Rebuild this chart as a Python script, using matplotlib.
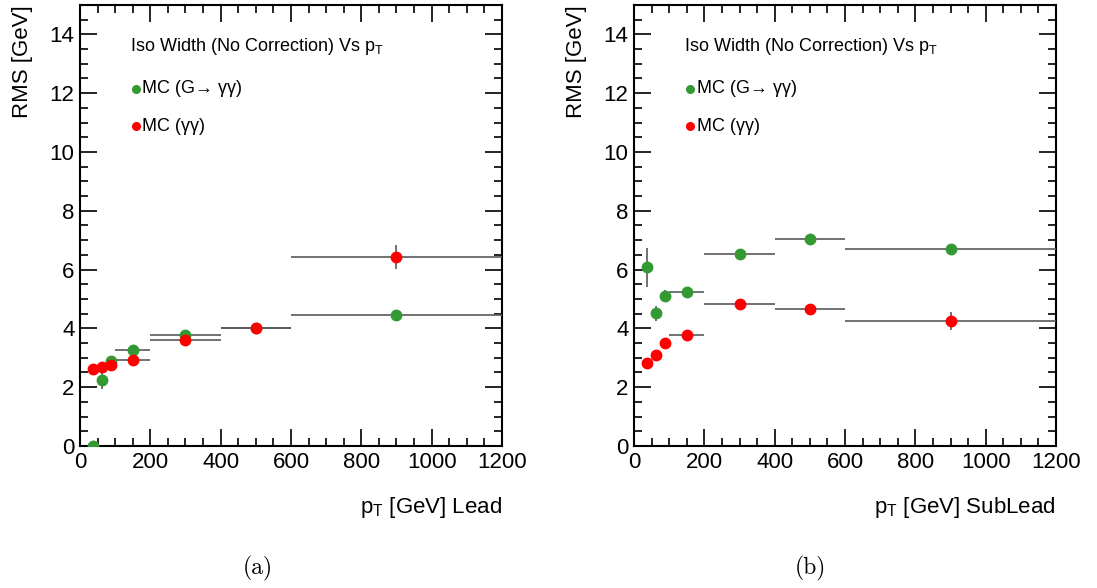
import numpy as np
import matplotlib
matplotlib.use('Agg')
import matplotlib.pyplot as plt
from matplotlib.ticker import MultipleLocator

plt.rcParams['font.family'] = ['Liberation Sans', 'DejaVu Sans']
plt.rcParams['mathtext.fontset'] = 'custom'
plt.rcParams['mathtext.rm'] = 'Liberation Sans'
plt.rcParams['mathtext.it'] = 'Liberation Sans'

# pT bins (low edge, high edge)
bin_lo = [25, 50, 75, 100, 200, 400, 600]
bin_hi = [50, 75, 100, 200, 400, 600, 1200]

# Lead photon
lead_sig = [0.0, 2.23, 2.9, 3.26, 3.77, 4.02, 4.47]
lead_sig_err = [0.02, 0.3, 0.15, 0.05, 0.05, 0.05, 0.05]
lead_bkg = [2.62, 2.7, 2.77, 2.94, 3.6, 4.01, 6.42]
lead_bkg_err = [0.05, 0.05, 0.05, 0.05, 0.05, 0.05, 0.4]

# SubLead photon
sub_sig = [6.08, 4.51, 5.11, 5.24, 6.53, 7.03, 6.69]
sub_sig_err = [0.66, 0.25, 0.18, 0.05, 0.05, 0.05, 0.05]
sub_bkg = [2.81, 3.09, 3.5, 3.78, 4.82, 4.65, 4.24]
sub_bkg_err = [0.05, 0.05, 0.05, 0.05, 0.05, 0.05, 0.31]

lo = np.array(bin_lo)
hi = np.array(bin_hi)
xc = (lo + hi) / 2.0
xe = (hi - lo) / 2.0

GREEN = '#339933'
RED = '#ff0000'
ptT = r'$\mathrm{p_{T}}$'

fig = plt.figure(figsize=(10.97, 5.88), dpi=100)
ax1 = fig.add_axes([0.0729, 0.2415, 0.3847, 0.75])
ax2 = fig.add_axes([0.578, 0.2415, 0.3847, 0.75])


def draw(ax, sig, sig_err, bkg, bkg_err, xlabel):
    for y, ye, c in [(sig, sig_err, GREEN), (bkg, bkg_err, RED)]:
        ax.errorbar(xc, y, xerr=xe, yerr=ye, fmt='o', color=c, ms=7.5,
                    ecolor='0.35', elinewidth=1.2, capsize=0, zorder=3)
    ax.set_xlim(0, 1200)
    ax.set_ylim(0, 15)
    ax.xaxis.set_major_locator(MultipleLocator(200))
    ax.xaxis.set_minor_locator(MultipleLocator(50))
    ax.yaxis.set_major_locator(MultipleLocator(2))
    ax.yaxis.set_minor_locator(MultipleLocator(0.5))
    ax.tick_params(which='both', direction='in', top=True, right=True,
                   labelsize=16, width=1.2)
    ax.tick_params(which='major', length=12, pad=4)
    ax.tick_params(which='minor', length=6)
    for s in ax.spines.values():
        s.set_linewidth(1.5)
    ax.set_xlabel(ptT + ' [GeV] ' + xlabel, fontsize=16, loc='right', labelpad=16)
    ax.set_ylabel('RMS [GeV]', fontsize=16, loc='top', labelpad=12)
    ax.text(0.118, 0.905, 'Iso Width (No Correction) Vs ' + ptT,
            transform=ax.transAxes, fontsize=13, va='center')
    ax.plot([0.133], [0.81], 'o', color=GREEN, ms=5.5, transform=ax.transAxes)
    ax.text(0.148, 0.81, 'MC (G\u2192 \u03b3\u03b3)', transform=ax.transAxes,
            fontsize=13, va='center')
    ax.plot([0.133], [0.725], 'o', color=RED, ms=5.5, transform=ax.transAxes)
    ax.text(0.148, 0.725, 'MC (\u03b3\u03b3)', transform=ax.transAxes,
            fontsize=13, va='center')


draw(ax1, lead_sig, lead_sig_err, lead_bkg, lead_bkg_err, 'Lead')
draw(ax2, sub_sig, sub_sig_err, sub_bkg, sub_bkg_err, 'SubLead')

fig.text(258 / 1097, 1 - 568 / 588, '(a)', fontfamily='cmr10', fontsize=17,
         ha='center', va='center')
fig.text(810 / 1097, 1 - 568 / 588, '(b)', fontfamily='cmr10', fontsize=17,
         ha='center', va='center')

fig.savefig('out.png', dpi=100)
